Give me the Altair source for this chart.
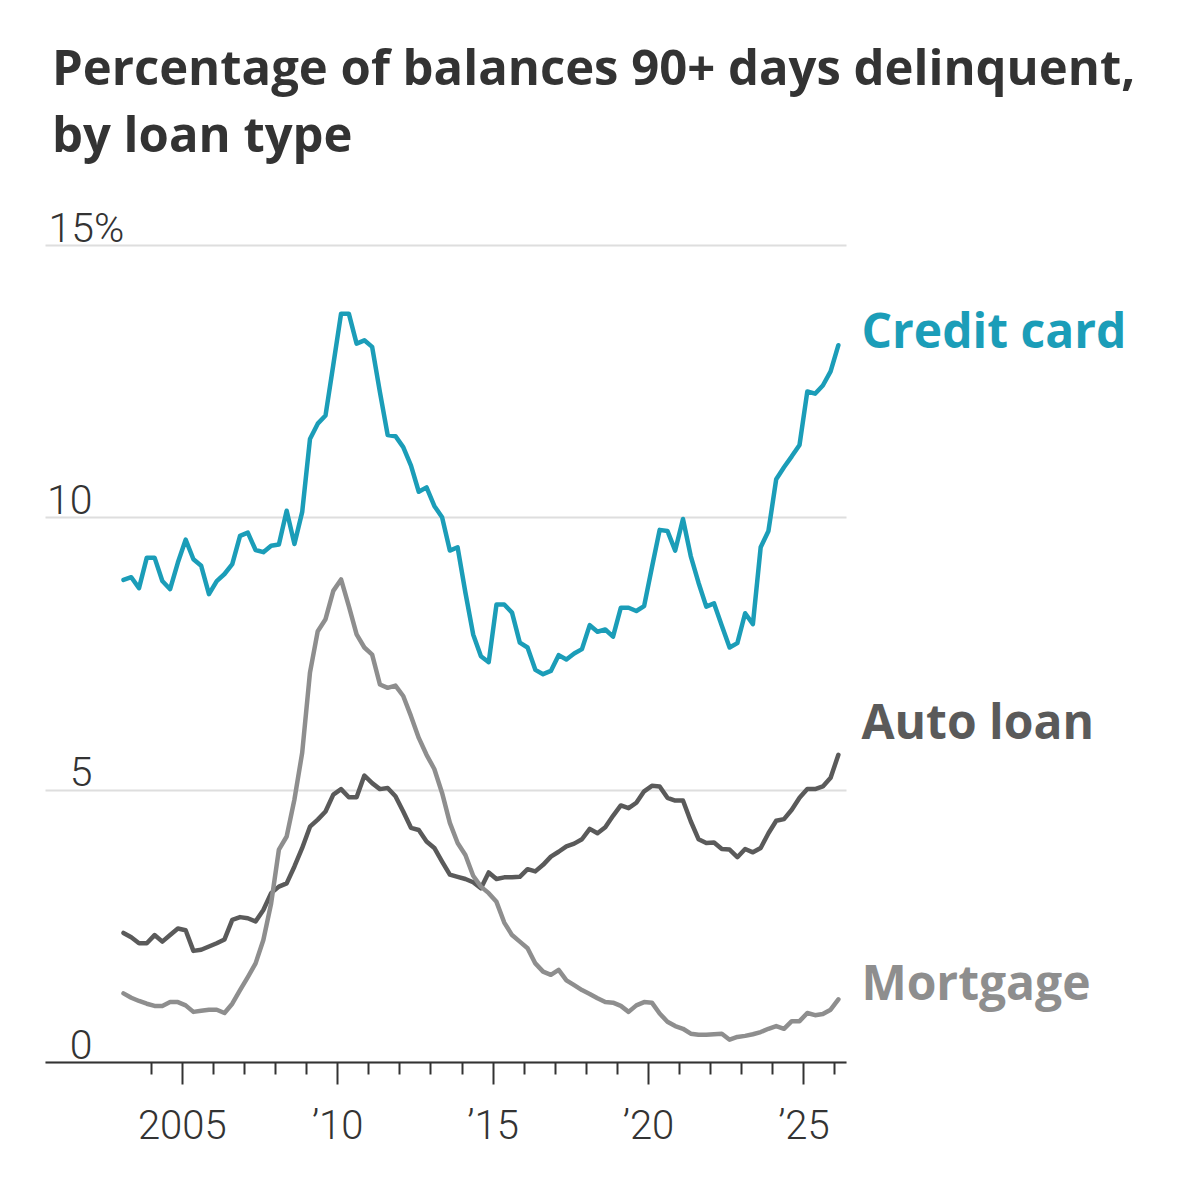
import altair as alt
import pandas as pd

# Quarterly observations, 2003 Q1 through 2026 Q1
quarters = [(y, q) for y in range(2003, 2026) for q in range(1, 5)] + [(2026, 1)]

credit_card = [
    8.85, 8.90, 8.70, 9.26, 9.26, 8.83, 8.68, 9.17, 9.59, 9.23, 9.11, 8.59,
    8.83, 8.96, 9.14, 9.66, 9.72, 9.40, 9.36, 9.48, 9.50, 10.12, 9.51, 10.10,
    11.44, 11.72, 11.87, 12.80, 13.74, 13.74, 13.19, 13.25, 13.13, 12.30, 11.51, 11.49,
    11.29, 10.95, 10.47, 10.55, 10.21, 10.00, 9.39, 9.45, 8.62, 7.85, 7.45, 7.34,
    8.40, 8.40, 8.25, 7.70, 7.61, 7.20, 7.12, 7.18, 7.47, 7.39, 7.50, 7.58,
    8.02, 7.90, 7.94, 7.81, 8.34, 8.34, 8.28, 8.37, 9.08, 9.77, 9.75, 9.39,
    9.97, 9.29, 8.80, 8.36, 8.42, 8.01, 7.61, 7.69, 8.24, 8.04, 9.45, 9.75,
    10.70, 10.92, 11.12, 11.33, 12.31, 12.27, 12.42, 12.68, 13.16,
]

auto_loan = [
    2.37, 2.29, 2.18, 2.18, 2.33, 2.21, 2.33, 2.45, 2.42, 2.04, 2.06, 2.12,
    2.18, 2.25, 2.61, 2.66, 2.64, 2.58, 2.79, 3.10, 3.22, 3.28, 3.59, 3.93,
    4.32, 4.45, 4.60, 4.91, 5.01, 4.86, 4.86, 5.26, 5.12, 5.01, 5.03, 4.88,
    4.60, 4.30, 4.26, 4.05, 3.93, 3.68, 3.44, 3.40, 3.36, 3.30, 3.19, 3.48,
    3.36, 3.39, 3.39, 3.40, 3.54, 3.50, 3.62, 3.77, 3.86, 3.96, 4.01, 4.09,
    4.28, 4.20, 4.31, 4.52, 4.71, 4.66, 4.76, 4.97, 5.07, 5.06, 4.85, 4.80,
    4.80, 4.42, 4.09, 4.02, 4.03, 3.91, 3.90, 3.76, 3.91, 3.85, 3.93, 4.20,
    4.43, 4.46, 4.63, 4.85, 5.01, 5.01, 5.06, 5.22, 5.64,
]

mortgage = [
    1.26, 1.18, 1.12, 1.07, 1.03, 1.03, 1.10, 1.10, 1.04, 0.92, 0.94, 0.96,
    0.96, 0.90, 1.07, 1.32, 1.56, 1.81, 2.24, 2.91, 3.90, 4.14, 4.82, 5.68,
    7.15, 7.91, 8.13, 8.65, 8.86, 8.37, 7.85, 7.61, 7.48, 6.93, 6.87, 6.91,
    6.72, 6.35, 5.95, 5.64, 5.38, 4.94, 4.39, 4.02, 3.80, 3.42, 3.22, 3.10,
    2.94, 2.56, 2.33, 2.21, 2.09, 1.81, 1.66, 1.60, 1.69, 1.50, 1.41, 1.32,
    1.25, 1.17, 1.10, 1.09, 1.03, 0.92, 1.04, 1.10, 1.09, 0.89, 0.74, 0.66,
    0.61, 0.52, 0.50, 0.50, 0.51, 0.52, 0.41, 0.46, 0.48, 0.51, 0.55, 0.61,
    0.66, 0.61, 0.75, 0.75, 0.90, 0.86, 0.88, 0.96, 1.15,
]

series_names = ["Credit card", "Auto loan", "Mortgage"]
series_colors = ["#1b9db8", "#5a5a5a", "#8e8e8e"]
series_values = [credit_card, auto_loan, mortgage]

rows = []
for name, vals in zip(series_names, series_values):
    for (yr, q), v in zip(quarters, vals):
        rows.append({"series": name, "t": yr + (q - 0.5) / 4, "value": v})
df = pd.DataFrame(rows)
last = df.groupby("series", as_index=False).tail(1)

x_scale = alt.Scale(domain=[2000.6, 2026.37], nice=False, zero=False)
y_scale = alt.Scale(domain=[0, 15], nice=False)
color_scale = alt.Scale(domain=series_names, range=series_colors)

label_font = "Roboto"
heading_font = "Open Sans"
year_ticks = list(range(2004, 2027))

x_axis = alt.Axis(
    values=year_ticks,
    tickCount=len(year_ticks) + 5,
    title=None,
    grid=False,
    domainColor="#333333",
    domainWidth=2,
    tickColor="#333333",
    tickWidth=2,
    tickSize={"condition": {"test": "datum.value % 5 === 0", "value": 22}, "value": 12},
    labelExpr="datum.value === 2005 ? '2005' : (datum.value % 5 === 0 ? '\u2019' + substring(toString(datum.value), 2, 4) : '')",
    labelFont=label_font,
    labelFontSize=40,
    labelFontWeight=300,
    labelColor="#333333",
    labelPadding=22,
    labelFlush=False,
    labelOverlap=False,
)

y_axis = alt.Axis(
    values=[0, 5, 10, 15],
    title=None,
    domain=False,
    ticks=False,
    tickSize=0,
    grid=True,
    gridColor="#dedede",
    gridWidth=2,
    labelExpr="datum.value === 15 ? '15%' : datum.label",
    labelAlign={"condition": {"test": "datum.value === 15", "value": "left"}, "value": "right"},
    labelPadding={"condition": {"test": "datum.value === 15", "value": -3}, "value": -47},
    labelBaseline="alphabetic",
    labelOffset=-4,
    labelFont=label_font,
    labelFontSize=41,
    labelFontWeight=300,
    labelColor="#333333",
)

base = alt.Chart(df)

lines = base.mark_line(strokeWidth=4.5, strokeJoin="round", strokeCap="round").encode(
    x=alt.X("t:Q", scale=x_scale, axis=x_axis),
    y=alt.Y("value:Q", scale=y_scale, axis=y_axis),
    color=alt.Color("series:N", scale=color_scale, legend=None),
    detail="series:N",
)


def end_label(name, dy):
    return alt.Chart(last).transform_filter(
        alt.datum.series == name
    ).mark_text(
        align="left", baseline="middle", dx=23, dy=dy,
        font=heading_font, fontSize=48, fontWeight="bold",
    ).encode(
        x=alt.X("t:Q", scale=x_scale),
        y=alt.Y("value:Q", scale=y_scale),
        text="series:N",
        color=alt.Color("series:N", scale=color_scale, legend=None),
    )


chart = alt.layer(
    lines,
    end_label("Credit card", -11),
    end_label("Auto loan", -30),
    end_label("Mortgage", -13),
).properties(
    width=801,
    height=817,
    padding={"left": 45, "top": 245, "right": 354, "bottom": 131},
    autosize=alt.AutoSizeParams(type="none"),
    title=alt.TitleParams(
        text=["Percentage of balances 90+ days delinquent,", "by loan type"],
        anchor="start",
        font=heading_font,
        fontSize=49,
        fontWeight="bold",
        color="#333333",
        lineHeight=67,
        offset=46,
        dx=7,
    ),
).configure(
    background="white",
    view=alt.ViewConfig(stroke="transparent", strokeWidth=0),
)

chart.save("out.html", embed_options={"renderer": "svg", "actions": False})
